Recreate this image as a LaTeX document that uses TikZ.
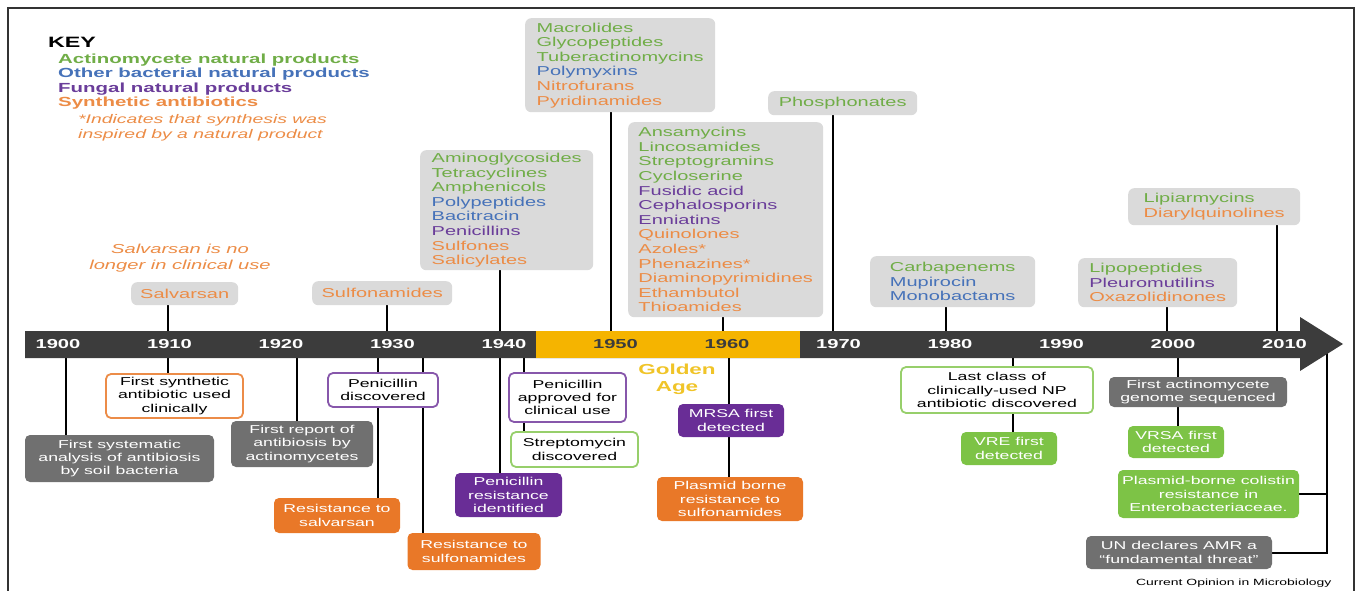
\documentclass[tikz,border=0pt]{standalone}
\usepackage{fontspec}
\setmainfont{Liberation Sans}[FakeStretch=1.55]
\usepackage{tikz}
\usetikzlibrary{backgrounds}

\definecolor{actino}{RGB}{112,173,71}
\definecolor{bacteria}{RGB}{70,114,185}
\definecolor{fungi}{RGB}{106,61,154}
\definecolor{synthetic}{RGB}{236,140,70}
\definecolor{listgrey}{RGB}{218,218,218}
\definecolor{darkgrey}{RGB}{112,112,112}
\definecolor{evorange}{RGB}{233,120,40}
\definecolor{evpurple}{RGB}{105,45,150}
\definecolor{evgreen}{RGB}{125,195,70}
\definecolor{barcol}{RGB}{60,60,60}
\definecolor{golden}{RGB}{245,180,0}
\definecolor{goldtext}{RGB}{240,196,40}

\newcommand{\actn}[1]{\textcolor{actino}{#1}}
\newcommand{\bact}[1]{\textcolor{bacteria}{#1}}
\newcommand{\fung}[1]{\textcolor{fungi}{#1}}
\newcommand{\synt}[1]{\textcolor{synthetic}{#1}}

\tikzstyle{classbox}=[rounded corners=6pt,fill=listgrey,anchor=north west,align=left,inner sep=2pt,font=\fontsize{12.9}{14.6}\selectfont]
\tikzstyle{eventbox}=[rounded corners=5pt,align=center,inner sep=2pt,font=\fontsize{11.4}{13.3}\selectfont]
\tikzstyle{darkevent}=[eventbox,fill=darkgrey,text=white]
\tikzstyle{orangeevent}=[eventbox,fill=evorange,text=white]
\tikzstyle{purpleevent}=[eventbox,fill=evpurple,text=white]
\tikzstyle{greenevent}=[eventbox,fill=evgreen,text=white]
\tikzstyle{openevent}=[eventbox,fill=white,text=black,line width=1.8pt]
\tikzstyle{tick}=[draw,line width=2pt]
\tikzstyle{yearlabel}=[font=\fontsize{13}{15}\selectfont\bfseries]

\begin{document}
\begin{tikzpicture}[x=1pt,y=-1pt]
    \useasboundingbox (0,0) rectangle (1358,591);
    % frame round the figure
    \draw[line width=1.5pt,black!80] (8,591) -- (8,8) -- (1354,8) -- (1354,591);

    % the key
    \node[anchor=west,inner sep=0pt,font=\fontsize{15}{17}\selectfont\bfseries] (key) at (48,42) {KEY};
    \node[anchor=west,align=left,inner sep=0pt,font=\fontsize{13.2}{14.3}\selectfont\bfseries] (keylist) at (58,81.5)
        {\actn{Actinomycete natural products}\\ \bact{Other bacterial natural products}\\
         \fung{Fungal natural products}\\ \synt{Synthetic antibiotics}};
    \node[anchor=west,align=left,inner sep=0pt,text=synthetic,font=\fontsize{12.5}{15}\selectfont\itshape] (keynote) at (78,127.5)
        {*Indicates that synthesis was\\inspired by a natural product};

    % the time line and the golden age
    \fill[barcol] (25,331) -- (1300,331) -- (1300,317) -- (1343,344) -- (1300,371) -- (1300,358) -- (25,358) -- cycle;
    \fill[golden] (536,331) rectangle (800,358);
    \foreach \yr/\col in {1900/white,1910/white,1920/white,1930/white,1940/white,1950/barcol,
                          1960/barcol,1970/white,1980/white,1990/white,2000/white,2010/white}{
        \pgfmathsetmacro{\xx}{58+11.15*(\yr-1900)}
        \node[yearlabel,text=\col] (y\yr) at (\xx,344) {\yr};
    }
    \node[align=center,text=goldtext,font=\fontsize{14.5}{17}\selectfont\bfseries] (golden) at (677,379) {Golden\\Age};

    % classes of antibiotics above the line
    \node[align=center,text=synthetic,font=\fontsize{13}{16}\selectfont\itshape] (salvnote) at (180,258)
        {Salvarsan is no\\longer in clinical use};
    \node[classbox,align=center,minimum width=107pt,minimum height=23pt] (salvarsan) at (131,282) {\synt{Salvarsan}};
    \node[classbox,align=center,minimum width=140pt,minimum height=24pt] (sulfa) at (312,281) {\synt{Sulfonamides}};
    \node[classbox,minimum width=173pt,minimum height=120pt] (amino) at (420,150)
        {\actn{Aminoglycosides}\\ \actn{Tetracyclines}\\ \actn{Amphenicols}\\ \bact{Polypeptides}\\
         \bact{Bacitracin}\\ \fung{Penicillins}\\ \synt{Sulfones}\\ \synt{Salicylates}};
    \node[classbox,minimum width=190pt,minimum height=94pt] (macro) at (525,18)
        {\actn{Macrolides}\\ \actn{Glycopeptides}\\ \actn{Tuberactinomycins}\\ \bact{Polymyxins}\\
         \synt{Nitrofurans}\\ \synt{Pyridinamides}};
    \node[classbox,minimum width=195pt,minimum height=195pt] (ansa) at (628,122)
        {\actn{Ansamycins}\\ \actn{Lincosamides}\\ \actn{Streptogramins}\\ \actn{Cycloserine}\\
         \fung{Fusidic acid}\\ \fung{Cephalosporins}\\ \fung{Enniatins}\\ \synt{Quinolones}\\
         \synt{Azoles*}\\ \synt{Phenazines*}\\ \synt{Diaminopyrimidines}\\ \synt{Ethambutol}\\ \synt{Thioamides}};
    \node[classbox,align=center,minimum width=149pt,minimum height=24pt] (phos) at (768,91) {\actn{Phosphonates}};
    \node[classbox,minimum width=165pt,minimum height=51pt] (carba) at (870,256)
        {\actn{Carbapenems}\\ \bact{Mupirocin}\\ \bact{Monobactams}};
    \node[classbox,minimum width=159pt,minimum height=49pt] (lipo) at (1078,258)
        {\actn{Lipopeptides}\\ \fung{Pleuromutilins}\\ \synt{Oxazolidinones}};
    \node[classbox,minimum width=172pt,minimum height=37pt] (lipiar) at (1128,188)
        {\actn{Lipiarmycins}\\ \synt{Diarylquinolines}};

    % events below the line
    \node[darkevent,minimum width=189pt,minimum height=47pt] (soil) at (119.5,458.5)
        {First systematic\\analysis of antibiosis\\by soil bacteria};
    \node[openevent,draw=evorange!85,minimum width=137pt,minimum height=44pt] (firstsyn) at (174.5,396)
        {First synthetic\\antibiotic used\\clinically};
    \node[darkevent,minimum width=142pt,minimum height=46pt] (report) at (302,444)
        {First report of\\antibiosis by\\actinomycetes};
    \node[openevent,draw=evpurple!80,minimum width=110pt,minimum height=34pt] (pendisc) at (383,390)
        {Penicillin\\discovered};
    \node[orangeevent,minimum width=126pt,minimum height=35pt] (ressalv) at (337,515.5)
        {Resistance to\\salvarsan};
    \node[orangeevent,minimum width=133pt,minimum height=37pt] (ressulfa) at (474,551.5)
        {Resistance to\\sulfonamides};
    \node[purpleevent,minimum width=107pt,minimum height=44pt] (penres) at (508.5,495)
        {Penicillin\\resistance\\identified};
    \node[openevent,draw=evpurple!80,minimum width=117pt,minimum height=49pt] (penappr) at (567.5,397.5)
        {Penicillin\\approved for\\clinical use};
    \node[openevent,draw=evgreen!80,minimum width=127pt,minimum height=35pt] (strepto) at (574.5,449.5)
        {Streptomycin\\discovered};
    \node[purpleevent,minimum width=106pt,minimum height=33pt] (mrsa) at (731,420.5)
        {MRSA first\\detected};
    \node[orangeevent,minimum width=146pt,minimum height=44pt] (plasmid) at (730,499)
        {Plasmid borne\\resistance to\\sulfonamides};
    \node[openevent,draw=evgreen!80,minimum width=192pt,minimum height=46pt] (lastnp) at (997,390)
        {Last class of\\clinically-used NP\\antibiotic discovered};
    \node[greenevent,minimum width=96pt,minimum height=33pt] (vre) at (1009,448.5)
        {VRE first\\detected};
    \node[darkevent,minimum width=178pt,minimum height=30pt] (genome) at (1198,392)
        {First actinomycete\\genome sequenced};
    \node[greenevent,minimum width=96pt,minimum height=32pt] (vrsa) at (1176,442)
        {VRSA first\\detected};
    \node[greenevent,minimum width=181pt,minimum height=48pt] (colistin) at (1208.5,494)
        {Plasmid-borne colistin\\resistance in\\Enterobacteriaceae.};
    \node[darkevent,minimum width=186pt,minimum height=33pt] (amr) at (1179,552.5)
        {UN declares AMR a\\``fundamental threat''};

    \node[anchor=east,font=\fontsize{9}{11}\selectfont] (source) at (1335,583) {Current Opinion in Microbiology};

    % the places on the line that the connectors start from
    \foreach \name/\x in {t1904/66, t1910/168, t1921/297, t1928/378, t1932/423, t1940/500, t1942/524,
                          t1946/611, t1955/723, t1960/729, t1969/833, t1981/946, t1986/1013,
                          t2000/1167, t2001/1178, t2010/1277, t2016/1327}
        \coordinate (\name) at (\x,344);
    \coordinate (t1930) at (387,344);

    % connect classes and events to the line
    \begin{scope}[on background layer]
    \foreach \source/\dest in {t1910/salvarsan, t1930/sulfa, t1940/amino, t1946/macro, t1955/ansa,
                               t1969/phos, t1981/carba, t2000/lipo, t2010/lipiar}
        \path[tick] (\source) -- (\source |- \dest.south);
    \foreach \source/\dest in {t1904/soil, t1910/firstsyn, t1921/report, t1928/ressalv, t1932/ressulfa,
                               t1940/penres, t1942/strepto, t1960/plasmid, t1986/vre, t2001/vrsa}
        \path[tick] (\source) -- (\source |- \dest.north);
    \path[tick] (t2016) |- (amr.east);
    \path[tick] (colistin.east) -- (colistin.east -| t2016);
    \end{scope}
\end{tikzpicture}
\end{document}
